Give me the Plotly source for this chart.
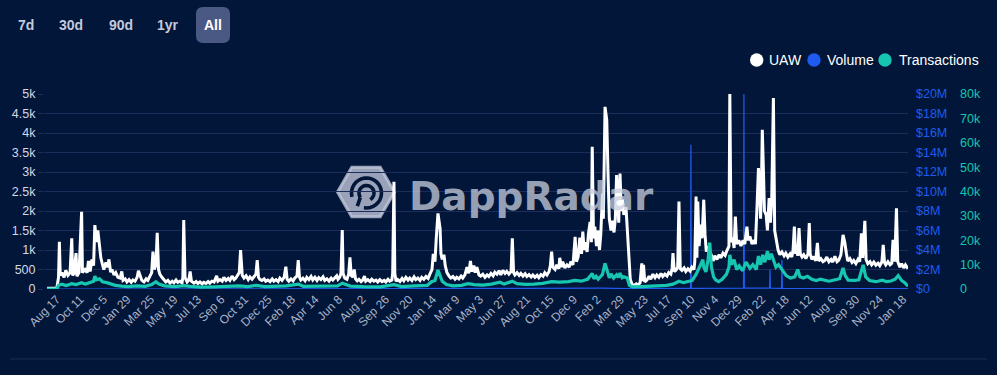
import math
import pandas as pd
import plotly.graph_objects as go

# ---------------- DATA ----------------
START = "2017-07-25"

uaw_days = [0, 23, 27, 29, 31, 35, 40, 44, 49, 54, 58, 60, 63, 68, 70, 75, 81, 83, 89, 94, 97, 101, 105, 109, 112, 116, 119, 123, 126, 130,
            133, 138, 142, 145, 149, 152, 157, 161, 166, 171, 175, 178, 183, 187, 192, 197, 201, 206, 211, 214, 218, 222, 227, 232, 236, 241,
            245, 248, 251, 255, 258, 261, 264, 269, 274, 278, 283, 288, 293, 297, 302, 306, 311, 316, 318, 320, 323, 328, 332, 335, 338, 344,
            349, 353, 358, 363, 367, 372, 377, 381, 386, 391, 397, 400, 405, 410, 414, 419, 424, 428, 433, 438, 442, 447, 450, 453, 457, 461,
            466, 471, 475, 480, 485, 489, 492, 495, 498, 503, 508, 512,
            517, 522, 527, 531, 536, 541, 545, 550, 555, 559, 562, 566, 571, 576, 580, 585, 588, 591, 594, 599, 604, 608, 613, 618, 622, 627,
            632, 636, 641, 646, 650, 655, 660, 665, 669, 674, 678, 681, 685, 688, 691, 693, 697, 702, 706, 709, 712, 716, 719, 722, 726, 730,
            735, 739, 743, 746, 751, 756, 760, 765, 770, 774, 779, 784, 789, 793, 798, 802, 807, 809, 812, 814, 817, 821, 826, 831, 835, 840,
            845, 849, 854, 859, 863, 868, 873, 877, 882, 887, 892, 896, 901, 904, 908, 911, 915, 920, 922, 925, 929, 932, 936, 941, 945, 950,
            955, 959, 964, 969, 973, 978, 983, 987, 991, 994, 999, 1002, 1006, 1011, 1015, 1020, 1025, 1030, 1034, 1039, 1044,
            1048, 1053, 1058, 1062, 1067, 1072, 1076, 1081, 1086, 1089, 1092, 1095, 1100, 1105, 1109, 1114, 1119, 1123, 1128, 1133, 1137, 1142,
            1147, 1151, 1156, 1161, 1165, 1170, 1175, 1178, 1181, 1184, 1189, 1193, 1198, 1200, 1204, 1207, 1212, 1217, 1222, 1226, 1231, 1236,
            1239, 1243, 1247, 1251, 1254, 1257, 1260, 1264, 1267, 1271, 1274, 1276, 1279, 1282, 1286, 1289, 1293, 1296, 1300, 1302, 1306, 1310,
            1313, 1316, 1320, 1323, 1327, 1330, 1333, 1336, 1338, 1341, 1344, 1347, 1350, 1355, 1358, 1362, 1365, 1369, 1374, 1379, 1383, 1388,
            1392, 1394, 1396, 1399, 1404, 1409, 1413, 1418, 1423, 1427, 1432, 1437, 1441, 1446, 1451, 1455, 1460, 1463, 1465, 1468, 1472, 1476,
            1479, 1482, 1486, 1491, 1495, 1500, 1505, 1509, 1514, 1516, 1519, 1521, 1523, 1526, 1530, 1533,
            1535, 1537, 1540, 1543, 1547, 1550, 1554, 1559, 1563, 1568, 1573, 1577, 1582, 1587, 1591, 1596, 1598, 1601, 1605, 1608, 1611, 1614,
            1619, 1624, 1629, 1633, 1638, 1641, 1645, 1650, 1655, 1658, 1662, 1665, 1668, 1670, 1672, 1674, 1677, 1679, 1683, 1686, 1690, 1693,
            1696, 1700, 1703, 1706, 1711, 1715, 1720, 1725, 1729, 1734, 1739, 1743, 1746, 1749, 1752, 1755, 1757, 1760, 1763, 1767, 1771, 1776,
            1781, 1784, 1786, 1790, 1795, 1799, 1803, 1806, 1811, 1816, 1821, 1825, 1830, 1835, 1839, 1844, 1849, 1853, 1858, 1863, 1867, 1871,
            1874, 1879, 1884, 1888, 1893, 1898, 1902, 1906, 1909, 1914, 1917, 1921, 1926, 1930, 1935, 1940, 1945, 1949, 1954, 1957, 1960, 1963,
            1968, 1973, 1977, 1980, 1984, 1988, 1991, 1996, 2000, 2005, 2009, 2015]

uaw_values = [20, 20, 300, 1210, 350, 420, 300, 480, 350, 420, 1300, 350, 400, 920, 330, 420, 1980, 420, 500, 420, 720, 450, 760, 600, 1640, 1200, 1500, 1100, 800, 620,
              500, 680, 560, 760, 430, 500, 360, 420, 300, 280, 450, 220, 260, 180, 240, 170, 230, 200, 300, 470, 330, 220, 180, 260, 220, 330,
              420, 960, 500, 620, 1440, 500, 380, 300, 230, 180, 220, 150, 200, 160, 230, 170, 200, 160, 300, 1770, 300, 180, 230, 450, 200, 150,
              190, 140, 180, 130, 170, 140, 190, 150, 200, 180, 340, 200, 240, 200, 300, 220, 270, 220, 330, 240, 280, 350, 420, 1000, 350, 280,
              340, 240, 310, 250, 330, 380, 740, 300, 250, 220, 260, 200,
              230, 190, 260, 200, 240, 190, 280, 220, 300, 570, 250, 200, 260, 210, 280, 330, 740, 300, 230, 280, 210, 300, 240, 320, 230, 300,
              220, 290, 240, 310, 220, 260, 200, 280, 230, 300, 340, 250, 300, 400, 1510, 400, 280, 250, 380, 810, 350, 300, 500, 260, 210, 250,
              190, 230, 330, 200, 240, 190, 250, 200, 230, 180, 240, 190, 220, 180, 250, 200, 230, 400, 2750, 400, 200, 240, 190, 270, 210, 300,
              230, 280, 220, 310, 240, 280, 220, 300, 250, 320, 270, 380, 500, 900, 700, 1300, 1940, 1550, 900, 760, 880, 600, 420, 330, 280, 320,
              250, 300, 260, 330, 280, 360, 560, 400, 720, 450, 600, 420, 560, 360, 330, 380, 300, 360, 320, 400, 340,
              430, 380, 470, 360, 480, 400, 450, 380, 450, 1300, 420, 360, 420, 350, 400, 330, 390, 320, 370, 310, 360, 300,
              350, 290, 370, 330, 420, 360, 450, 600, 960, 560, 500, 620, 520, 800, 560, 700, 540, 620, 560, 700, 620, 1340,
              700, 820, 1320, 900, 1470, 1000, 1200, 950, 1400, 1720, 1200, 3650, 1300, 1600, 1100, 1500, 1000, 1400, 2450, 1800, 4670, 4330,
              2950, 1800, 1500, 1750, 1450, 1800, 2920, 1900, 1700, 2960, 2000, 2300, 1900, 2100, 1600, 900, 250, 120, 90, 130, 100, 160,
              660, 200, 620, 180, 230, 330, 250, 380, 290, 360, 300, 400, 320, 380, 330, 420, 380, 540, 920, 450, 480, 560,
              2240, 520, 480, 540, 450, 520, 460, 560, 500, 700, 2370, 800, 2240, 1100, 1650, 1300,
              1700, 2290, 1400, 960, 1100, 820, 900, 720, 850, 760, 880, 800, 920, 860, 980, 1100, 5020, 1200, 1320, 1050, 1860, 1150,
              1250, 1100, 1250, 1150, 1600, 1250, 1350, 1150, 1250, 1150, 2200, 3100, 2500, 1800, 2600, 4085, 2900, 2000, 1900, 1500, 2330, 1700,
              2250, 4900, 1500, 1300, 1000, 880, 950, 850, 920, 820, 900, 820, 1000, 1600, 900, 1000, 850, 1560, 900, 820, 880, 780,
              900, 1690, 900, 760, 830, 720, 1180, 720, 780, 700, 740, 820, 700, 760, 690, 840, 700, 740, 880, 1390, 1200, 900,
              720, 780, 680, 730, 650, 760, 700, 1430, 800, 1750, 750, 650, 700, 620, 690, 610, 660, 600, 700, 1130, 680, 620,
              700, 620, 660, 1260, 700, 2070, 700, 560, 650, 540, 620, 520]

tx_days = [0, 23, 27, 35, 45, 58, 68, 81, 90, 101, 109, 112, 116, 123, 130, 140, 150, 160, 175, 190, 210, 230, 245, 255, 262, 275, 300,
           320, 335, 360, 390, 420, 450, 470, 490, 510, 540, 560, 588, 600, 640, 680, 691, 710, 740, 780, 812, 830, 860, 890, 900, 908,
           915, 920, 925, 935, 950, 970, 985, 1000, 1020, 1040, 1048, 1060, 1070, 1089, 1100, 1120, 1140, 1160, 1181, 1200, 1220, 1236,
           1250, 1265, 1276, 1280, 1285, 1290, 1295, 1300, 1306, 1312, 1316, 1320, 1326, 1333, 1337, 1341, 1346, 1350, 1358, 1363, 1370,
           1390, 1410, 1430, 1450, 1465, 1479, 1490, 1500, 1510, 1519, 1525, 1530, 1535, 1537, 1542, 1547, 1551, 1555, 1560, 1565, 1572,
           1580, 1590, 1596, 1598, 1602, 1608, 1614, 1620, 1628, 1636, 1645, 1652, 1660, 1665, 1670, 1675, 1680, 1686, 1690, 1695, 1700,
           1706, 1712, 1718, 1725, 1730, 1740, 1750, 1757, 1762, 1770, 1780, 1790, 1800, 1810, 1820, 1830, 1845, 1855, 1863, 1868, 1875,
           1890, 1900, 1910, 1916, 1925, 1940, 1955, 1965, 1975, 1985, 1992, 2000, 2008, 2015]

tx_values = [0, 0, 1500, 2000, 1400, 2200, 1800, 2600, 2000, 2800, 3200, 5300, 3800, 4200, 3000, 2600, 2000, 1500, 1200, 1000, 1300, 1100,
             1800, 3000, 2000, 1300, 1000, 1400, 1100, 800, 900, 1000, 1300, 1000, 1500, 1000, 1000, 1300, 2000, 1100, 1200, 1300, 2400,
             1200, 1000, 900, 1800, 1000, 1300, 1500, 3000, 3500, 7800, 5000, 3200, 1800, 1300, 1500, 2200, 1800, 1600, 2000, 2200, 2800,
             2000, 3200, 2200, 1900, 2000, 2300, 3000, 2800, 3000, 3500, 3200, 4000, 6400, 4200, 5200, 4000, 5000, 6000, 10500, 7000, 4600,
             6200, 4500, 5800, 4800, 6500, 4600, 5000, 4500, 1500, 900, 1000, 1100, 1300, 1500, 2000, 3200, 2600, 3000, 3500, 6000, 8000,
             10000, 12000, 9000, 7000, 12000, 19000, 9000, 5000, 3700, 3000, 4000, 6000, 9000, 14000, 10000, 12000, 8000, 9500, 7500,
             11000, 8500, 10000, 8000, 13500, 10000, 14000, 11000, 15500, 12000, 14500, 12000, 9000, 10000, 8500, 7000, 5500, 4500, 5000,
             8000, 5000, 4500, 5200, 4000, 3500, 4000, 3500, 3200, 3800, 4200, 8600, 5500, 3600, 3500, 3800, 9900, 5000, 3500, 3000, 3600,
             3000, 3300, 4000, 5500, 3500, 2500, 1100]

vol_days = [0, 23, 30, 200, 500, 900, 1100, 1300, 1360, 1500, 1506, 1507, 1508, 1630, 1631, 1632, 1691, 1692, 1693, 1719, 1720, 1721, 1850, 2015]
vol_values = [0, 0, 60000, 40000, 30000, 50000, 60000, 80000, 40000, 60000, 60000, 14800000, 60000, 80000, 20000000, 80000,
              80000, 2000000, 80000, 60000, 3000000, 60000, 50000, 40000]

tick_dates = ["2017-08-17", "2017-10-11", "2017-12-05", "2018-01-29", "2018-03-25", "2018-05-19", "2018-07-13", "2018-09-06",
              "2018-10-31", "2018-12-25", "2019-02-18", "2019-04-14", "2019-06-08", "2019-08-02", "2019-09-26", "2019-11-20",
              "2020-01-14", "2020-03-09", "2020-05-03", "2020-06-27", "2020-08-21", "2020-10-15", "2020-12-09", "2021-02-02",
              "2021-03-29", "2021-05-23", "2021-07-17", "2021-09-10", "2021-11-04", "2021-12-29", "2022-02-22", "2022-04-18",
              "2022-06-12", "2022-08-06", "2022-09-30", "2022-11-24", "2023-01-18"]
tick_labels = ["Aug 17", "Oct 11", "Dec 5", "Jan 29", "Mar 25", "May 19", "Jul 13", "Sep 6", "Oct 31", "Dec 25", "Feb 18",
               "Apr 14", "Jun 8", "Aug 2", "Sep 26", "Nov 20", "Jan 14", "Mar 9", "May 3", "Jun 27", "Aug 21", "Oct 15", "Dec 9",
               "Feb 2", "Mar 29", "May 23", "Jul 17", "Sep 10", "Nov 4", "Dec 29", "Feb 22", "Apr 18", "Jun 12", "Aug 6", "Sep 30",
               "Nov 24", "Jan 18"]

uaw_ticks = [0, 500, 1000, 1500, 2000, 2500, 3000, 3500, 4000, 4500, 5000]
uaw_tick_text = ["0", "500", "1k", "1.5k", "2k", "2.5k", "3k", "3.5k", "4k", "4.5k", "5k"]
vol_ticks = [0, 2e6, 4e6, 6e6, 8e6, 10e6, 12e6, 14e6, 16e6, 18e6, 20e6]
vol_tick_text = ["$0", "$2M", "$4M", "$6M", "$8M", "$10M", "$12M", "$14M", "$16M", "$18M", "$20M"]
tx_ticks = [0, 10000, 20000, 30000, 40000, 50000, 60000, 70000, 80000]
tx_tick_text = ["0", "10k", "20k", "30k", "40k", "50k", "60k", "70k", "80k"]

range_buttons = ["7d", "30d", "90d", "1yr", "All"]
legend_names = ["UAW", "Volume", "Transactions"]

# ---------------- STYLE ----------------
BG = "#011638"
GRID = "#1b2d58"
WHITE = "#ffffff"
BLUE = "#1f5bf0"
TEAL = "#16c6b0"
FONT = "Liberation Sans, Arial, sans-serif"

W, H = 997, 375
ML, MR, MT, MB = 44, 0, 94, 86
PW = W - ML - MR
PH = H - MT - MB
X_END = 908


def px(x):
    return (x - ML) / PW


def py(y):
    return (H - MB - y) / PH


def to_dates(days):
    return pd.Timestamp(START) + pd.to_timedelta(days, unit="D")


fig = go.Figure()
fig.add_trace(go.Scatter(x=to_dates(vol_days), y=vol_values, name=legend_names[1], mode="lines",
                         line=dict(color=BLUE, width=1.2), yaxis="y", showlegend=False))
fig.add_trace(go.Scatter(x=to_dates(uaw_days), y=uaw_values, name=legend_names[0], mode="lines",
                         line=dict(color=WHITE, width=3.0), yaxis="y2", showlegend=False))
fig.add_trace(go.Scatter(x=to_dates(tx_days), y=tx_values, name=legend_names[2], mode="lines",
                         line=dict(color=TEAL, width=3.2), yaxis="y3", showlegend=False))

shapes = []
annotations = []

# range buttons
btn_x = [25.5, 71, 121, 167.5, 213]
for label, bx in zip(range_buttons, btn_x):
    annotations.append(dict(text=label, x=px(bx), y=py(25), xref="paper", yref="paper", xanchor="center",
                            yanchor="middle", showarrow=False,
                            font=dict(family=FONT, size=14, color="#ffffff" if label == "All" else "#c3c9dc",
                                      weight="bold")))
# rounded "All" box
bx0, bx1, by0, by1, r = 196, 230, 7, 43, 7
rx, ry = r / PW, r / PH
X0, X1, Y0, Y1 = px(bx0), px(bx1), py(by1), py(by0)
path = (f"M {X0+rx},{Y0} L {X1-rx},{Y0} Q {X1},{Y0} {X1},{Y0+ry} L {X1},{Y1-ry} Q {X1},{Y1} {X1-rx},{Y1} "
        f"L {X0+rx},{Y1} Q {X0},{Y1} {X0},{Y1-ry} L {X0},{Y0+ry} Q {X0},{Y0} {X0+rx},{Y0} Z")
shapes.append(dict(type="path", path=path, xref="paper", yref="paper", fillcolor="#4a5884",
                   line=dict(width=0), layer="below"))

# legend (manual)
leg = [(756.7, legend_names[0], WHITE, 767), (814, legend_names[1], BLUE, 825), (885, legend_names[2], TEAL, 897)]
LY = 60
for cx, name, col, tx in leg:
    shapes.append(dict(type="circle", xref="paper", yref="paper", x0=px(cx - 6.7), x1=px(cx + 6.7),
                       y0=py(LY + 6.7), y1=py(LY - 6.7), fillcolor=col, line=dict(width=0)))
    annotations.append(dict(text=name, x=px(tx), y=py(LY), xref="paper", yref="paper", xanchor="left",
                            yanchor="middle", showarrow=False, font=dict(family=FONT, size=14, color=WHITE)))

# separator line at bottom
shapes.append(dict(type="line", xref="paper", yref="paper", x0=px(10), x1=px(987), y0=py(359), y1=py(359),
                   line=dict(color="#1b2b52", width=1)))

# watermark: hexagon + radar icon + text
hcx, hcy, hr = 366, 192, 28.5
hh = hr * math.sqrt(3) / 2
hex_pts = [(hcx - hr, hcy), (hcx - hr / 2, hcy - hh), (hcx + hr / 2, hcy - hh), (hcx + hr, hcy),
           (hcx + hr / 2, hcy + hh), (hcx - hr / 2, hcy + hh)]
hex_path = "M " + " L ".join(f"{px(a)},{py(b)}" for a, b in hex_pts) + " Z"
shapes.append(dict(type="path", path=hex_path, xref="paper", yref="paper",
                   fillcolor="rgba(196,202,220,0.78)", line=dict(color="rgba(196,202,220,0.78)", width=3,), layer="below"))


def arc(cx, cy, rad, a0, a1, n=24):
    pts = []
    for i in range(n + 1):
        a = math.radians(a0 + (a1 - a0) * i / n)
        pts.append((cx + rad * math.cos(a), cy - rad * math.sin(a)))
    return pts


icx, icy = 366.5, 193
for rad, a0, a1 in [(15, -100, 195), (7.5, -60, 215)]:
    pts = arc(icx, icy, rad, a0, a1)
    p = "M " + " L ".join(f"{px(a)},{py(b)}" for a, b in pts)
    shapes.append(dict(type="path", path=p, xref="paper", yref="paper", line=dict(color=BG, width=3.6),
                       layer="below"))
stem = [(icx + 7.5 * math.cos(math.radians(215)), icy - 7.5 * math.sin(math.radians(215))),
        (icx + 16 * math.cos(math.radians(235)), icy - 16 * math.sin(math.radians(235)))]
shapes.append(dict(type="path", path=f"M {px(stem[0][0])},{py(stem[0][1])} L {px(stem[1][0])},{py(stem[1][1])}",
                   xref="paper", yref="paper", line=dict(color=BG, width=3.6), layer="below"))

annotations.append(dict(text="DappRadar", x=px(531.5), y=py(196), xref="paper", yref="paper", xanchor="center",
                        yanchor="middle", showarrow=False,
                        font=dict(family="DejaVu Sans, sans-serif", size=39, color="rgba(200,206,222,0.76)",
                                  weight="bold")))

x_range = [pd.Timestamp(START) - pd.Timedelta(days=7), pd.Timestamp(START) + pd.Timedelta(days=2015)]
dom_end = px(X_END)

fig.update_layout(
    width=W, height=H,
    margin=dict(l=ML, r=MR, t=MT, b=MB),
    paper_bgcolor=BG, plot_bgcolor=BG,
    showlegend=False,
    font=dict(family=FONT),
    shapes=shapes, annotations=annotations,
    xaxis=dict(domain=[0, dom_end], type="date", range=x_range, tickmode="array", tickvals=tick_dates,
               ticktext=tick_labels, tickangle=-45, showgrid=False, zeroline=False, showline=False,
               tickfont=dict(size=12, color="#aab3c9", family=FONT), ticks=""),
    yaxis=dict(range=[0, 20e6], tickmode="array", tickvals=vol_ticks, ticktext=vol_tick_text, side="right",
               anchor="free", position=px(915), showgrid=True, gridcolor=GRID, gridwidth=1, zeroline=False,
               showline=False, ticks="", tickfont=dict(size=12.5, color=BLUE, family=FONT)),
    yaxis2=dict(range=[0, 5000], tickmode="array", tickvals=uaw_ticks, ticktext=uaw_tick_text, overlaying="y",
                side="left", anchor="x", showgrid=False, zeroline=False, showline=False, ticks="outside",
                ticklen=5, tickcolor=GRID, tickfont=dict(size=12.5, color="#d3d8e6", family=FONT)),
    yaxis3=dict(range=[0, 80000], tickmode="array", tickvals=tx_ticks, ticktext=tx_tick_text, overlaying="y",
                side="right", anchor="free", position=px(959), showgrid=False, zeroline=False, showline=False,
                ticks="", tickfont=dict(size=12.5, color=TEAL, family=FONT)),
)

fig.write_html("out.html", config={"displayModeBar": False},
               post_script="document.body.style.margin='0';document.body.style.overflow='hidden';")
